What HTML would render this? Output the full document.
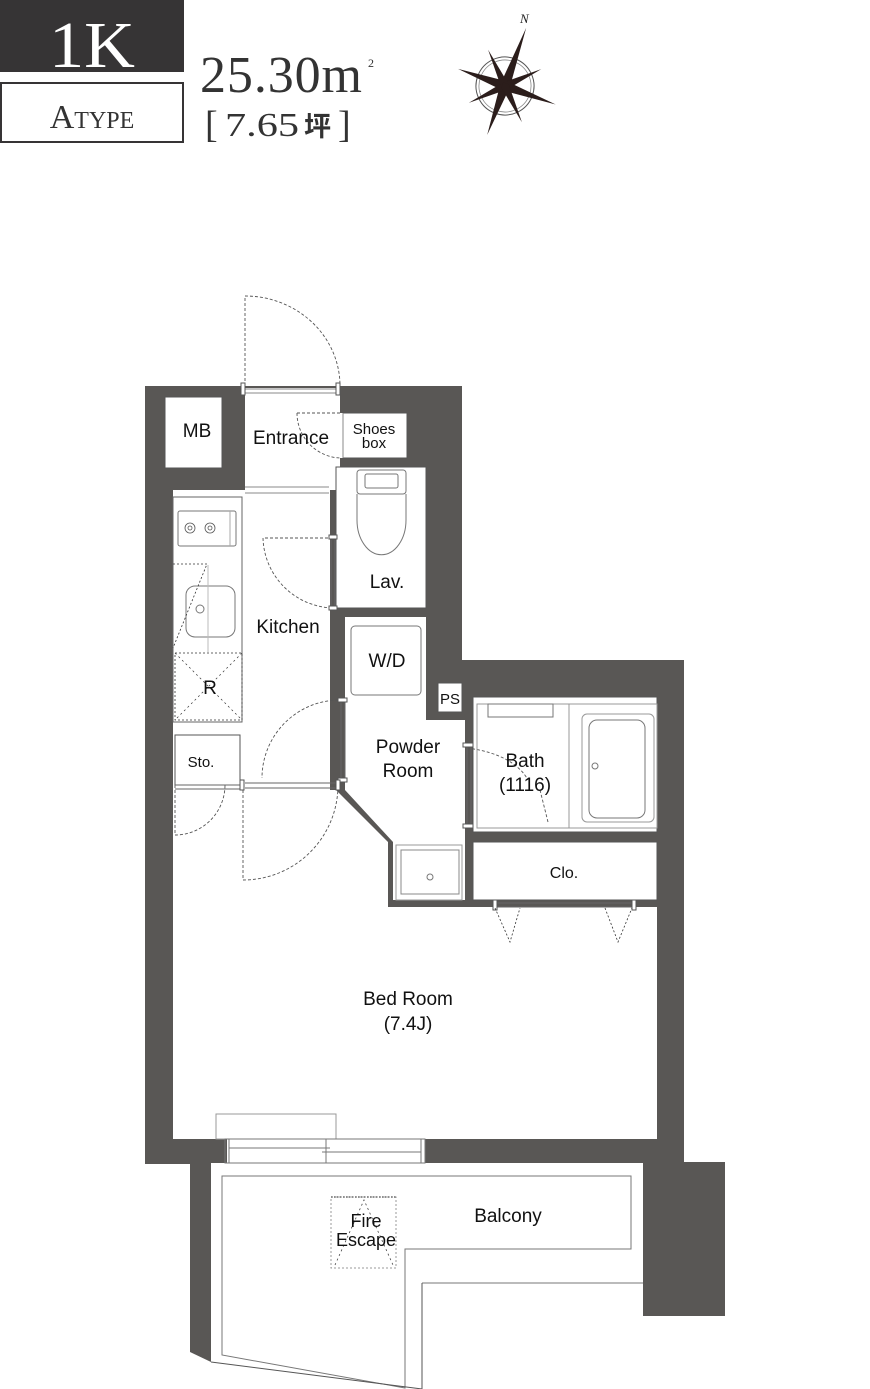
<!DOCTYPE html>
<html><head><meta charset="utf-8"><style>
html,body{margin:0;padding:0;background:#fff;}
svg{display:block;}
text{font-family:"Liberation Sans",sans-serif;fill:#111;}
.serif{font-family:"Liberation Serif","Noto Serif CJK SC",serif;}
</style></head><body>
<svg width="870" height="1389" viewBox="0 0 870 1389" xmlns="http://www.w3.org/2000/svg">
<!-- header -->
<rect x="0" y="0" width="184" height="72" fill="#363435"/>
<text x="92" y="67" text-anchor="middle" class="serif" font-size="66" style="fill:#fff" textLength="86" lengthAdjust="spacingAndGlyphs">1K</text>
<rect x="1" y="83" width="182" height="59" fill="#fff" stroke="#363435" stroke-width="2"/>
<text x="92" y="128" text-anchor="middle" class="serif" font-size="34" style="fill:#333">A<tspan font-size="24">TYPE</tspan></text>
<text x="200" y="92" class="serif" font-size="52" style="fill:#333" textLength="162" lengthAdjust="spacing">25.30m</text>
<text x="368" y="67" class="serif" font-size="12" style="fill:#333">2</text>
<text x="205" y="137" class="serif" font-size="38" style="fill:#333">[</text>
<text x="225" y="136" class="serif" font-size="34" style="fill:#333" textLength="74" lengthAdjust="spacingAndGlyphs">7.65</text>
<text x="304" y="136" font-size="27" style="fill:#333;font-family:'Noto Sans CJK JP',sans-serif;font-weight:bold">坪</text>
<text x="338" y="137" class="serif" font-size="38" style="fill:#333">]</text>
<!-- compass -->
<g transform="translate(505,86) rotate(20)">
<circle r="29" fill="none" stroke="#555" stroke-width="1"/>
<circle r="26" fill="none" stroke="#888" stroke-width="0.8"/>
<g fill="#2b1d1b">
<polygon points="0,-62 5,0 0,5 -5,0"/>
<polygon points="0,52 5,0 0,-5 -5,0"/>
<polygon points="-50,0 0,-5 5,0 0,5"/>
<polygon points="54,0 0,-5 -5,0 0,5"/>
<g transform="rotate(45)"><polygon points="0,-40 4,0 0,4 -4,0"/><polygon points="0,40 4,0 0,-4 -4,0"/><polygon points="-40,0 0,-4 4,0 0,4"/><polygon points="40,0 0,-4 -4,0 0,4"/></g>
</g>
</g>
<text x="520" y="23" class="serif" font-size="13" font-style="italic" style="fill:#222">N</text>

<!-- walls -->
<g fill="#595755">
<polygon points="145,386 462,386 462,660 684,660 684,1164 145,1164"/>
<rect x="643" y="1162" width="82" height="154"/>
<polygon points="190,1163 211,1163 211,1362 190,1352"/>
</g>
<!-- interiors -->
<g fill="#fff">
<rect x="245" y="388" width="95" height="102"/>
<rect x="165" y="397" width="57" height="71" stroke="#555" stroke-width="1"/>
<rect x="343" y="413" width="64" height="45" stroke="#555" stroke-width="1"/>
<polygon points="329,413 343,413 343,458 329,458"/>
<rect x="173" y="490" width="157" height="300"/>
<rect x="173" y="497" width="69" height="225" stroke="#666" stroke-width="1"/>
<rect x="336" y="467" width="90" height="141" stroke="#555" stroke-width="1"/>
<polygon points="345,617 426,617 426,720 465,720 465,900 393,900 393,842 345,790"/>
<rect x="438" y="683" width="24" height="29" stroke="#555" stroke-width="1"/>
<rect x="473" y="697" width="184" height="135" stroke="#555" stroke-width="1"/>
<rect x="473" y="842" width="184" height="58" stroke="#555" stroke-width="1"/>
<polygon points="173,790 336,790 388,842 388,907 657,907 657,1139 173,1139"/>
<rect x="175" y="735" width="65" height="50" stroke="#555" stroke-width="1"/>
<polygon points="211,1163 643,1163 643,1283 422,1283 422,1389 211,1362"/>
<rect x="227" y="1139" width="198" height="24"/>
</g>
<!-- kitchen/counter details -->
<rect x="178" y="511" width="58" height="35" rx="2" fill="#fff" stroke="#777" stroke-width="1"/>
<line x1="230" y1="511" x2="230" y2="546" stroke="#aaa"/>
<g fill="none" stroke="#555" stroke-width="0.8">
<circle cx="190" cy="528" r="5"/><circle cx="190" cy="528" r="2"/>
<circle cx="210" cy="528" r="5"/><circle cx="210" cy="528" r="2"/>
</g>
<rect x="186" y="586" width="49" height="51" rx="9" fill="none" stroke="#777"/>
<circle cx="200" cy="609" r="4" fill="none" stroke="#777"/>
<line x1="208" y1="565" x2="208" y2="652" stroke="#bbb"/>
<path d="M173,564 H207 L173,648" fill="none" stroke="#333" stroke-dasharray="2,2" stroke-width="0.8"/>
<rect x="175" y="653" width="67" height="67" fill="none" stroke="#333" stroke-dasharray="2,2" stroke-width="0.8"/>
<path d="M175,653 L242,720 M242,653 L175,720" stroke="#333" stroke-dasharray="2,3" stroke-width="0.7"/>
<!-- entrance -->
<g stroke="#888" stroke-width="1">
<line x1="245" y1="389" x2="338" y2="389"/><line x1="245" y1="393" x2="338" y2="393"/>
<line x1="245" y1="487" x2="329" y2="487"/><line x1="245" y1="493" x2="329" y2="493"/>
</g>
<rect x="241" y="383" width="4" height="12" fill="#fff" stroke="#555"/>
<rect x="336" y="383" width="4" height="12" fill="#fff" stroke="#555"/>
<g fill="none" stroke="#555" stroke-width="0.9" stroke-dasharray="3,2">
<path d="M245,386 V296 A95,90 0 0 1 340,386"/>
<path d="M297,413 H340 M297,413 A45,45 0 0 0 340,458"/>
<path d="M333,538 H263 A72,72 0 0 0 333,608"/>
<path d="M338,700 A78,78 0 0 0 262,778"/>
<path d="M243,785 V880 A95,95 0 0 0 338,785"/>
<path d="M175,785 V835 A50,50 0 0 0 225,785"/>
<path d="M467,748 C500,752 520,765 528,780 M540,790 L548,822"/>
</g>
<line x1="343" y1="413" x2="343" y2="458" stroke="#888"/>
<!-- partitions -->
<g stroke="#666" stroke-width="1">
<line x1="331" y1="540" x2="331" y2="606"/><line x1="335" y1="540" x2="335" y2="606"/>
<line x1="341" y1="702" x2="341" y2="780"/><line x1="345" y1="702" x2="345" y2="780"/>
<line x1="245" y1="783" x2="336" y2="783"/><line x1="245" y1="788" x2="336" y2="788"/>
<line x1="175" y1="785" x2="240" y2="785"/><line x1="175" y1="789" x2="240" y2="789"/>
<line x1="467" y1="746" x2="467" y2="826"/><line x1="471" y1="746" x2="471" y2="826"/>
<line x1="495" y1="903" x2="635" y2="903"/><line x1="495" y1="907" x2="635" y2="907"/>
</g>
<g fill="#fff" stroke="#555">
<rect x="329" y="535" width="8" height="4"/><rect x="329" y="606" width="8" height="4"/>
<rect x="338" y="698" width="9" height="4"/><rect x="338" y="778" width="9" height="4"/>
<rect x="336" y="780" width="4" height="10"/><rect x="240" y="780" width="4" height="10"/>
<rect x="463" y="743" width="10" height="4"/><rect x="463" y="824" width="10" height="4"/>
<rect x="493" y="900" width="4" height="10"/><rect x="632" y="900" width="4" height="10"/>
</g>
<g fill="none" stroke="#333" stroke-width="0.8" stroke-dasharray="2,2">
<path d="M495,908 L510,942 L520,908"/><path d="M605,908 L618,942 L632,908"/>
</g>
<!-- lav -->
<rect x="357" y="470" width="49" height="24" rx="3" fill="#fff" stroke="#777"/>
<rect x="365" y="474" width="33" height="14" rx="2" fill="none" stroke="#777"/>
<path d="M357,494 V520 A24,34 0 0 0 406,520 V494" fill="none" stroke="#777"/>
<!-- W/D -->
<rect x="351" y="626" width="70" height="69" rx="4" fill="none" stroke="#777"/>
<!-- bath -->
<rect x="477" y="704" width="180" height="124" fill="none" stroke="#999"/>
<rect x="488" y="704" width="65" height="13" fill="none" stroke="#777"/>
<line x1="569" y1="704" x2="569" y2="828" stroke="#999"/>
<rect x="582" y="714" width="72" height="108" rx="5" fill="none" stroke="#999"/>
<rect x="589" y="720" width="56" height="98" rx="8" fill="none" stroke="#777"/>
<circle cx="595" cy="766" r="3" fill="none" stroke="#777"/>
<!-- powder sink -->
<rect x="396" y="845" width="66" height="55" fill="none" stroke="#999"/>
<rect x="401" y="850" width="58" height="44" fill="none" stroke="#888"/>
<circle cx="430" cy="877" r="3" fill="none" stroke="#777"/>
<!-- bedroom window -->
<rect x="216" y="1114" width="120" height="25" fill="none" stroke="#999"/>
<g stroke="#777" fill="none">
<rect x="225" y="1139" width="200" height="24"/>
<line x1="229" y1="1139" x2="229" y2="1163"/><line x1="421" y1="1139" x2="421" y2="1163"/>
<line x1="326" y1="1139" x2="326" y2="1163"/>
<line x1="229" y1="1148" x2="330" y2="1148"/><line x1="322" y1="1152" x2="421" y2="1152"/>
</g>
<!-- balcony -->
<polygon points="222,1176 631,1176 631,1249 405,1249 405,1388 222,1355" fill="none" stroke="#777"/>
<line x1="211" y1="1362" x2="422" y2="1389" stroke="#555"/>
<line x1="422" y1="1283" x2="643" y2="1283" stroke="#777"/>
<line x1="422" y1="1283" x2="422" y2="1389" stroke="#555"/>
<rect x="331" y="1197" width="65" height="71" fill="none" stroke="#999" stroke-dasharray="2,2"/>
<line x1="331" y1="1197" x2="396" y2="1197" stroke="#222" stroke-dasharray="1.5,1.5"/>
<path d="M335,1265 L364,1200 L393,1265" fill="none" stroke="#444" stroke-dasharray="2,3" stroke-width="0.8"/>
<!-- labels -->
<g font-size="19">
<text x="197" y="437" text-anchor="middle">MB</text>
<text x="291" y="444" text-anchor="middle">Entrance</text>
<text x="374" y="434" text-anchor="middle" font-size="15">Shoes</text>
<text x="374" y="448" text-anchor="middle" font-size="15">box</text>
<text x="387" y="588" text-anchor="middle">Lav.</text>
<text x="288" y="633" text-anchor="middle">Kitchen</text>
<text x="387" y="667" text-anchor="middle">W/D</text>
<text x="210" y="694" text-anchor="middle">R</text>
<text x="450" y="704" text-anchor="middle" font-size="15">PS</text>
<text x="201" y="767" text-anchor="middle" font-size="15">Sto.</text>
<text x="408" y="753" text-anchor="middle">Powder</text>
<text x="408" y="777" text-anchor="middle">Room</text>
<text x="525" y="767" text-anchor="middle">Bath</text>
<text x="525" y="791" text-anchor="middle">(1116)</text>
<text x="564" y="878" text-anchor="middle" font-size="16">Clo.</text>
<text x="408" y="1005" text-anchor="middle">Bed Room</text>
<text x="408" y="1030" text-anchor="middle">(7.4J)</text>
<text x="508" y="1222" text-anchor="middle">Balcony</text>
<text x="366" y="1227" text-anchor="middle" font-size="18">Fire</text>
<text x="366" y="1246" text-anchor="middle" font-size="18">Escape</text>
</g>
</svg>
</body></html>
